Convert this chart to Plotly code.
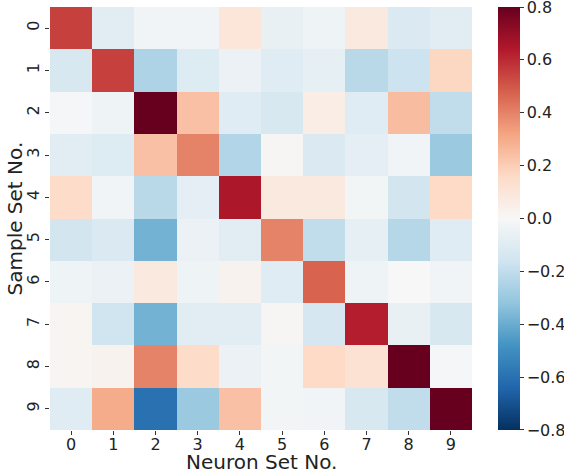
import plotly.graph_objects as go

neuron_sets = ["0", "1", "2", "3", "4", "5", "6", "7", "8", "9"]
sample_sets = ["0", "1", "2", "3", "4", "5", "6", "7", "8", "9"]

row0 = [0.55, -0.09, -0.03, -0.03, 0.10, -0.06, -0.04, 0.08, -0.12, -0.09]
row1 = [-0.13, 0.55, -0.25, -0.11, -0.05, -0.10, -0.07, -0.22, -0.17, 0.17]
row2 = [-0.01, -0.04, 0.85, 0.24, -0.10, -0.13, 0.06, -0.10, 0.25, -0.20]
row3 = [-0.09, -0.11, 0.24, 0.40, -0.24, 0.01, -0.12, -0.08, -0.03, -0.30]
row4 = [0.15, -0.03, -0.22, -0.08, 0.65, 0.08, 0.08, -0.02, -0.15, 0.16]
row5 = [-0.15, -0.12, -0.38, -0.05, -0.09, 0.40, -0.20, -0.07, -0.23, -0.10]
row6 = [-0.04, -0.05, 0.08, -0.04, 0.03, -0.10, 0.47, -0.04, 0.00, -0.03]
row7 = [0.02, -0.16, -0.38, -0.09, -0.09, 0.01, -0.14, 0.63, -0.06, -0.13]
row8 = [0.02, 0.03, 0.40, 0.15, -0.05, -0.02, 0.16, 0.12, 0.85, -0.01]
row9 = [-0.10, 0.30, -0.60, -0.30, 0.24, -0.02, -0.03, -0.13, -0.20, 0.85]

values = [row0, row1, row2, row3, row4, row5, row6, row7, row8, row9]

colorbar_ticks = [-0.8, -0.6, -0.4, -0.2, 0.0, 0.2, 0.4, 0.6, 0.8]
colorbar_labels = ["\u22120.8", "\u22120.6", "\u22120.4", "\u22120.2", "0.0", "0.2", "0.4", "0.6", "0.8"]

x_title = "Neuron Set No."
y_title = "Sample Set No."

rdbu_r = ["#053061", "#2166ac", "#4393c3", "#92c5de", "#d1e5f0", "#f7f7f7",
          "#fddbc7", "#f4a582", "#d6604d", "#b2182b", "#67001f"]
colorscale = [[i / 10, c] for i, c in enumerate(rdbu_r)]

FONT = "DejaVu Sans"
W, H = 564, 476
L, R, T, B = 50, 92, 7, 46
plot_w = W - L - R
plot_h = H - T - B

fig = go.Figure(go.Heatmap(
    z=values,
    x=list(range(len(neuron_sets))),
    y=list(range(len(sample_sets))),
    zmin=-0.8001, zmax=0.8001,
    colorscale=colorscale,
    colorbar=dict(
        x=1 + (498 - (W - R)) / plot_w, xanchor="left",
        y=0.5, yanchor="middle", len=1, lenmode="fraction",
        thickness=22, outlinewidth=0, xpad=0, ypad=0,
        tickmode="array", tickvals=colorbar_ticks, ticktext=colorbar_labels,
        ticks="outside", ticklen=4, tickcolor="#333",
        ticklabeloverflow="allow",
        tickfont=dict(family=FONT, size=16, color="#222"),
    ),
))

fig.update_layout(
    width=W, height=H,
    margin=dict(l=L, r=R, t=T, b=B, autoexpand=False),
    paper_bgcolor="white", plot_bgcolor="white",
    font=dict(family=FONT, color="#222"),
    annotations=[
        dict(text=x_title, xref="paper", yref="paper",
             x=0.5, y=(plot_h - (461.5 - T)) / plot_h,
             xanchor="center", yanchor="middle", showarrow=False,
             font=dict(size=20, family=FONT, color="#222")),
        dict(text=y_title, xref="paper", yref="paper",
             x=(14 - L) / plot_w, y=0.5, textangle=-90,
             xanchor="center", yanchor="middle", showarrow=False,
             font=dict(size=20, family=FONT, color="#222")),
    ],
)
fig.update_xaxes(
    tickmode="array", tickvals=list(range(10)), ticktext=neuron_sets,
    ticks="outside", ticklen=4, tickcolor="#333", ticklabelstandoff=-4,
    tickfont=dict(size=16), showgrid=False, zeroline=False, showline=False,
    automargin=False,
)
fig.update_yaxes(
    tickmode="array", tickvals=list(range(10)), ticktext=sample_sets,
    autorange="reversed", tickangle=-90,
    ticks="outside", ticklen=4, tickcolor="#333",
    tickfont=dict(size=16), showgrid=False, zeroline=False, showline=False,
    automargin=False,
)

fig.write_html(
    "out.html",
    config={"displayModeBar": False},
    post_script="document.body.style.margin='0';document.body.style.padding='0';",
)
